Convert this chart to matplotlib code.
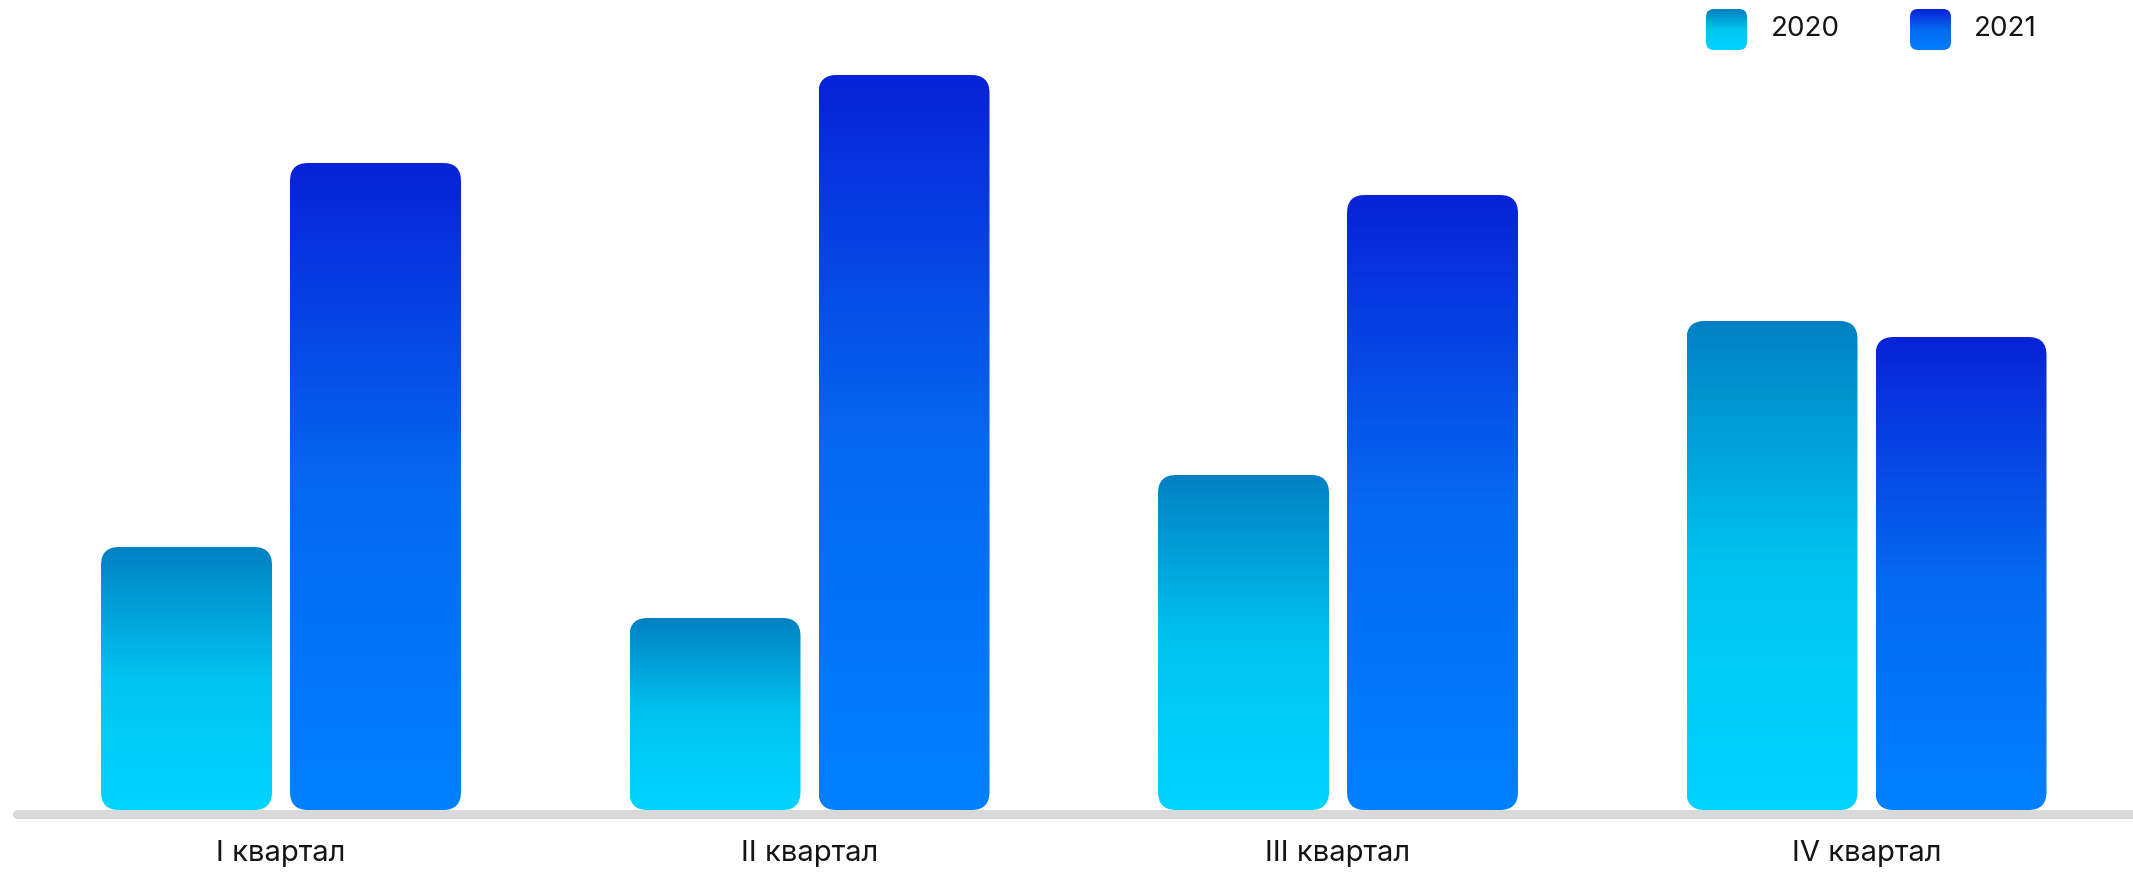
import matplotlib
matplotlib.use('Agg')
import matplotlib.pyplot as plt
import numpy as np
from matplotlib.patches import FancyBboxPatch
from matplotlib.colors import LinearSegmentedColormap

# data (arbitrary units)
quarters = ['I квартал', 'II квартал', 'III квартал', 'IV квартал']
years = ['2020', '2021']
vals_2020 = [263, 192, 335, 489]
vals_2021 = [647, 735, 615, 473]

plt.rcParams['font.family'] = ['Inter', 'DejaVu Sans']

# gradients: bottom colour -> top colour
cmap_2020 = LinearSegmentedColormap.from_list('c2020', ['#00D4FF', '#00C4F0', '#0080C2'])
cmap_2021 = LinearSegmentedColormap.from_list('c2021', ['#0080FF', '#0568F0', '#0822D8'])


def grad_box(ax, x0, y0, w, h, cmap, r, aspect, z=3):
    patch = FancyBboxPatch((x0, y0), w, h,
                           boxstyle=f'round,pad=0,rounding_size={r}',
                           mutation_aspect=aspect, linewidth=0,
                           facecolor='none', zorder=z)
    ax.add_patch(patch)
    grad = np.linspace(0, 1, 256).reshape(-1, 1)
    im = ax.imshow(grad, extent=(x0, x0 + w, y0, y0 + h), origin='lower',
                   cmap=cmap, aspect='auto', interpolation='bicubic', zorder=z)
    im.set_clip_path(patch)


W, H = 2133, 872
fig = plt.figure(figsize=(W / 100, H / 100), dpi=100)
ax = fig.add_axes([0, 0, 1, 1])
ax.axis('off')

# one category unit = 528.5 px, one y unit = 1 px
unit = 528.5
xmin, xmax = -281 / unit, (W - 281) / unit
ax.set_xlim(xmin, xmax)
ax.set_ylim(-62, 810)

x = np.arange(len(quarters))
bw = 171 / unit
off = 94.5 / unit
rad = 18 / unit

# baseline
ax.plot([(16.5 - 281) / unit, xmax + 0.1], [-4, -4], color='#D9D9D9',
        lw=6.5, solid_capstyle='round', zorder=1)

for i in x:
    grad_box(ax, i - off - bw / 2, 0, bw, vals_2020[i], cmap_2020, rad, unit)
    grad_box(ax, i + off - bw / 2, 0, bw, vals_2021[i], cmap_2021, rad, unit)
    ax.text(i, -43, quarters[i], ha='center', va='center', fontsize=21,
            color='#141414')

ax.set_xlim(xmin, xmax)
ax.set_ylim(-62, 810)

# legend in pixel coordinates
lg = fig.add_axes([0, 0, 1, 1])
lg.axis('off')
lg.set_xlim(0, W)
lg.set_ylim(0, H)
for bx, tx, yr, cm in [(1706, 1771, years[0], cmap_2020), (1910, 1974, years[1], cmap_2021)]:
    grad_box(lg, bx, H - 50, 41, 41, cm, 8, 1)
    lg.text(tx, H - 29, yr, ha='left', va='center', fontsize=20,
            color='#141414')
lg.set_xlim(0, W)
lg.set_ylim(0, H)

fig.savefig('out.png', dpi=100)
